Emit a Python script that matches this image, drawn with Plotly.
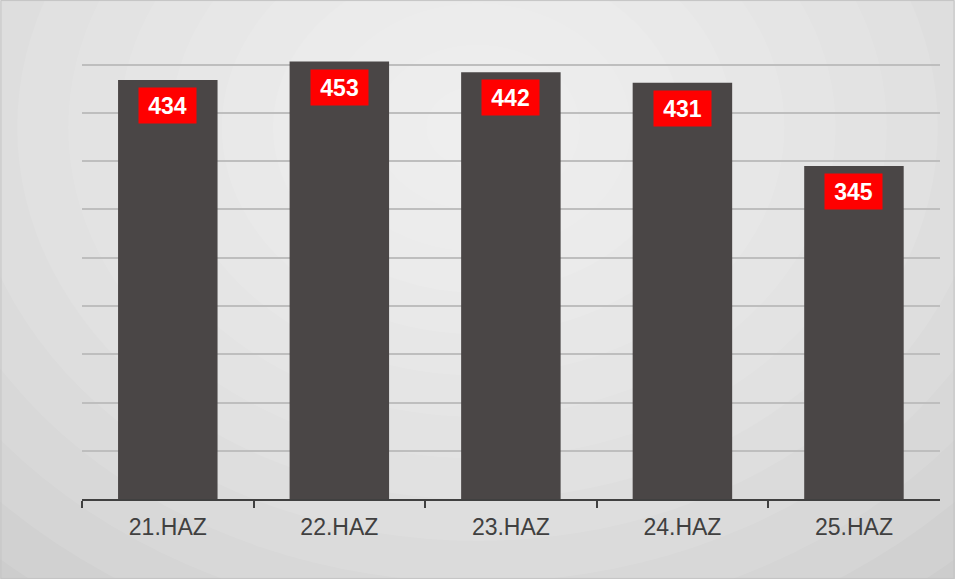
import plotly.graph_objects as go

categories = ["21.HAZ", "22.HAZ", "23.HAZ", "24.HAZ", "25.HAZ"]
values = [434, 453, 442, 431, 345]

fig = go.Figure()
fig.add_trace(go.Bar(
    x=categories, y=values,
    marker=dict(color="#4a4646", line=dict(width=0)),
    hoverinfo="skip",
))

annotations = []
for c, v in zip(categories, values):
    annotations.append(dict(
        x=c, y=v, xref="x", yref="y", text="<b>%d</b>" % v,
        showarrow=False, yanchor="top", yshift=-7,
        font=dict(family="Liberation Sans, Arial", size=23, color="white"),
        bgcolor="#ff0000", width=55, height=33, align="center", valign="middle",
        borderpad=1,
    ))

# background radial-ish gradient
shapes = []
n = 14
for i in range(n):
    f = 1 - i / n
    shapes.append(dict(
        type="circle", xref="paper", yref="paper", layer="below",
        x0=0.5 - 0.75 * f, x1=0.5 + 0.75 * f,
        y0=0.78 - 1.0 * f, y1=0.78 + 1.0 * f,
        fillcolor="white", opacity=0.09, line=dict(width=0),
    ))
shapes.append(dict(type="rect", xref="paper", yref="paper", x0=0.001, x1=0.999,
                   y0=0.001, y1=0.999, line=dict(color="#c4c4c4", width=1),
                   layer="above"))

fig.update_layout(
    width=955, height=579,
    margin=dict(l=0, r=0, t=0, b=0),
    paper_bgcolor="#cdcdcd",
    plot_bgcolor="rgba(0,0,0,0)",
    bargap=0.42,
    showlegend=False,
    annotations=annotations,
    shapes=shapes,
    xaxis=dict(
        domain=[0.0859, 0.984],
        showline=True, linecolor="#404040", linewidth=2,
        ticks="outside", tickson="boundaries", ticklen=7, tickwidth=2,
        tickcolor="#404040", ticklabelstandoff=6,
        tickfont=dict(family="Liberation Sans, Arial", size=23, color="#404040"),
        showgrid=False,
    ),
    yaxis=dict(
        domain=[0.138, 0.972],
        range=[0, 500], dtick=50,
        showgrid=True, gridcolor="#bebebe", gridwidth=1.5,
        showticklabels=False, zeroline=False, showline=False, ticks="",
    ),
)

fig.write_html("out.html", config={"displayModeBar": False},
               post_script="document.body.style.margin='0';document.body.style.padding='0';")
